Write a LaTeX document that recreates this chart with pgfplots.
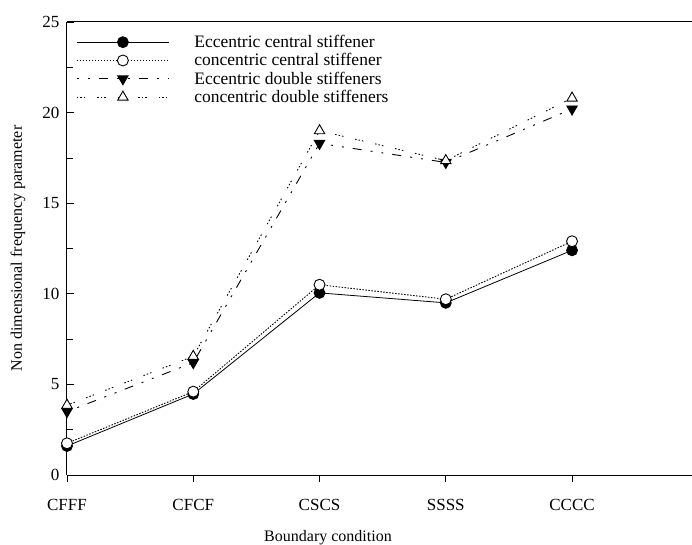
\documentclass[border=0pt]{standalone}
\usepackage{fontspec}
\setmainfont{Liberation Serif}
\usepackage{pgfplots}
\pgfplotsset{compat=1.18}
\begin{document}
\begin{tikzpicture}
\path[use as bounding box] (-67pt,-69pt) rectangle (625pt,475pt);
\begin{axis}[
  scale only axis, width=625pt, height=453pt,
  xmin=0, xmax=4.95, ymin=0, ymax=25,
  clip=false,
  axis lines*=left,
  axis line style={-, line width=1pt},
  xtick={0,1,2,3,4},
  xticklabels={CFFF,CFCF,CSCS,SSSS,CCCC},
  xtick align=outside,
  ytick={0,5,10,15,20,25},
  minor ytick={2.5,7.5,12.5,17.5,22.5},
  major tick length=7pt, minor tick length=6pt,
  tick style={line width=0.8pt, black},
  /pgf/number format/assume math mode=true,
  tick label style={font=\fontsize{17}{20}\selectfont},
  xticklabel style={yshift=-14pt},
  yticklabel style={xshift=-4pt},
  label style={font=\fontsize{16}{19}\selectfont},
  xlabel={Boundary condition},
  ylabel={Non dimensional frequency parameter},
  xlabel style={at={(axis description cs:0.4176,-0.138)}, anchor=center},
  ylabel style={at={(axis description cs:-0.0784,0.5)}, anchor=center},
  legend style={draw=none, fill=none, at={(axis description cs:0.01,0.98)}, anchor=north west,
    font=\fontsize{17.5}{21}\selectfont, row sep=0.5pt,
    /tikz/every odd column/.append style={column sep=23pt}},
  legend cell align=left,
  legend image code/.code={\draw[mark repeat=2,mark phase=2] plot coordinates {(0pt,0pt)(46pt,0pt)(92pt,0pt)};},
  extra description/.code={\draw[line width=1pt] (rel axis cs:0,1) -- (rel axis cs:1,1);},
]
\addplot[black, line width=0.8pt, solid, mark=*, mark size=5.5pt, mark options={solid, fill=black}]
  coordinates {(0,1.6) (1,4.47) (2,10.05) (3,9.5) (4,12.4)};
\addlegendentry{Eccentric central stiffener}
\addplot[black, line width=0.9pt, dash pattern=on 1.5pt off 1.5pt, mark=*, mark size=5.5pt, mark options={solid, fill=white}]
  coordinates {(0,1.75) (1,4.6) (2,10.5) (3,9.7) (4,12.9)};
\addlegendentry{concentric central stiffener}
\addplot[black, line width=0.9pt, dash pattern=on 2pt off 9pt on 2pt off 9pt on 9pt off 9pt, mark=triangle*, mark size=6pt, mark options={solid, fill=black, rotate=180}]
  coordinates {(0,3.5) (1,6.2) (2,18.3) (3,17.25) (4,20.2)};
\addlegendentry{Eccentric double stiffeners}
\addplot[black, line width=0.9pt, dash pattern=on 1.5pt off 2pt on 1.5pt off 2pt on 1.5pt off 12pt, mark=triangle*, mark size=6pt, mark options={solid, fill=white}]
  coordinates {(0,3.85) (1,6.55) (2,19.0) (3,17.35) (4,20.8)};
\addlegendentry{concentric double stiffeners}
\end{axis}
\end{tikzpicture}
\end{document}
